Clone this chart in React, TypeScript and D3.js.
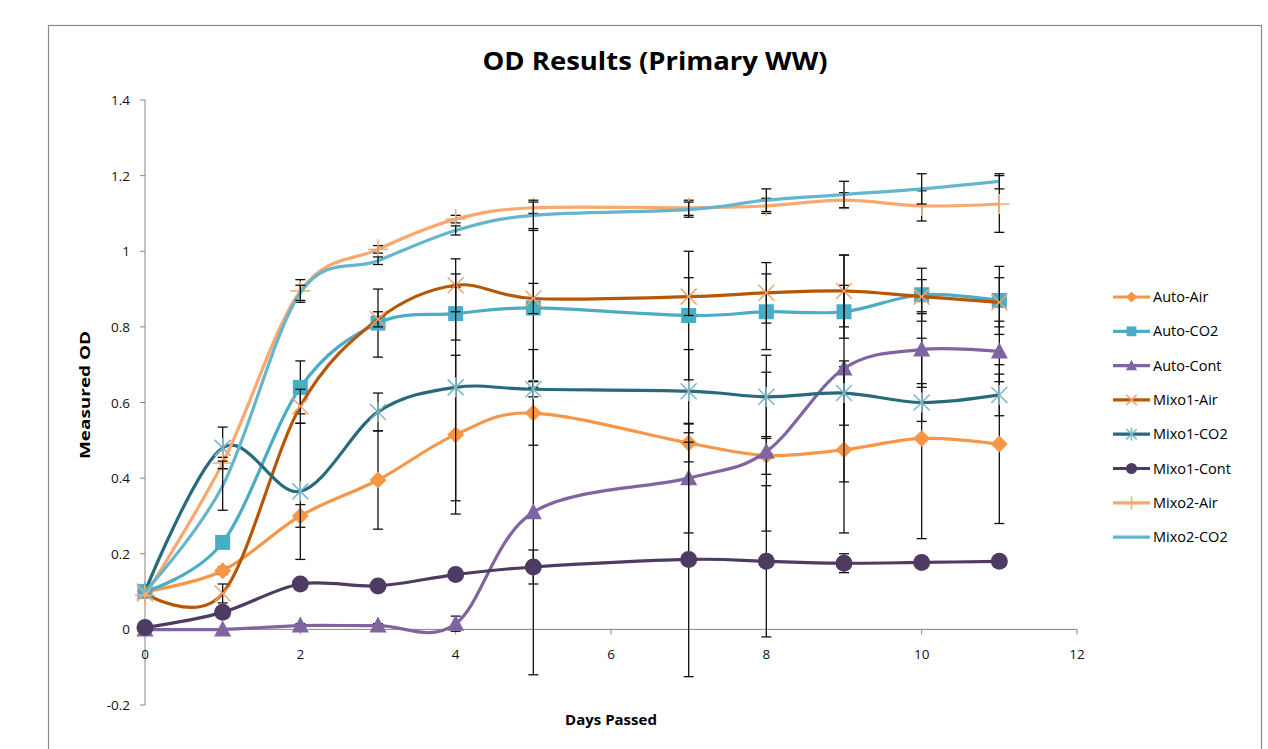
import React from "react";
import * as d3 from "d3";

const days = [0, 1, 2, 3, 4, 5, 7, 8, 9, 10, 11];
const seriesNames = ["Auto-Air", "Auto-CO2", "Auto-Cont", "Mixo1-Air", "Mixo1-CO2", "Mixo1-Cont", "Mixo2-Air", "Mixo2-CO2"];

const autoAir = [0.1, 0.155, 0.3, 0.395, 0.515, 0.572, 0.493, 0.46, 0.475, 0.505, 0.49];
const autoCO2 = [0.1, 0.23, 0.64, 0.81, 0.835, 0.85, 0.83, 0.84, 0.84, 0.885, 0.87];
const autoCont = [0, 0, 0.01, 0.01, 0.015, 0.31, 0.4, 0.47, 0.69, 0.74, 0.735];
const mixo1Air = [0.095, 0.095, 0.59, 0.82, 0.91, 0.875, 0.88, 0.89, 0.895, 0.88, 0.865];
const mixo1CO2 = [0.1, 0.48, 0.365, 0.575, 0.64, 0.635, 0.63, 0.615, 0.625, 0.6, 0.62];
const mixo1Cont = [0.005, 0.045, 0.12, 0.115, 0.145, 0.165, 0.185, 0.18, 0.175, 0.177, 0.18];
const mixo2Air = [0.09, 0.44, 0.895, 1.005, 1.085, 1.115, 1.115, 1.12, 1.135, 1.12, 1.125];
const mixo2CO2 = [0.1, 0.38, 0.89, 0.975, 1.055, 1.095, 1.11, 1.135, 1.15, 1.165, 1.185];

const autoAirErr = [0, 0.01, 0.03, 0.13, 0.21, 0.085, 0.05, 0.05, 0.22, 0.265, 0.21];
const autoCO2Err = [0, 0.01, 0.07, 0.09, 0.07, 0.21, 0.17, 0.1, 0.07, 0.07, 0.09];
const autoContErr = [0, 0, 0.005, 0.005, 0.02, 0.43, 0.145, 0.21, 0.3, 0.1, 0.08];
const mixo1AirErr = [0, 0.025, 0.045, 0.02, 0.07, 0.04, 0.05, 0.08, 0.095, 0.045, 0.065];
const mixo1CO2Err = [0, 0.055, 0.18, 0.05, 0.3, 0.02, 0.11, 0.11, 0.085, 0.05, 0.055];
const mixo1ContErr = [0, 0.005, 0.005, 0.005, 0.01, 0.045, 0.31, 0.2, 0.025, 0.005, 0.005];
const mixo2AirErr = [0, 0.015, 0.03, 0.01, 0.01, 0.015, 0.02, 0.02, 0.02, 0.04, 0.075];
const mixo2CO2Err = [0, 0.065, 0.02, 0.01, 0.012, 0.04, 0.02, 0.03, 0.035, 0.04, 0.02];

const xTicks = [0, 2, 4, 6, 8, 10, 12];
const yTicks = [-0.2, 0, 0.2, 0.4, 0.6, 0.8, 1, 1.2, 1.4];

const title = "OD Results (Primary WW)";
const xLabel = "Days Passed";
const yLabel = "Measured OD";

type Marker = "diamond" | "square" | "triangle" | "x" | "asterisk" | "circle" | "plus" | "none";

const styles: { color: string; markerColor: string; marker: Marker }[] = [
  { color: "#F79646", markerColor: "#F79646", marker: "diamond" },
  { color: "#4BACC6", markerColor: "#4BACC6", marker: "square" },
  { color: "#8064A2", markerColor: "#8064A2", marker: "triangle" },
  { color: "#B65708", markerColor: "#F2A36B", marker: "x" },
  { color: "#266A7C", markerColor: "#7DB5C6", marker: "asterisk" },
  { color: "#4E3B62", markerColor: "#4E3B62", marker: "circle" },
  { color: "#F9A86E", markerColor: "#F9A86E", marker: "plus" },
  { color: "#65B6CD", markerColor: "#65B6CD", marker: "none" },
];

const values = [autoAir, autoCO2, autoCont, mixo1Air, mixo1CO2, mixo1Cont, mixo2Air, mixo2CO2];
const errors = [autoAirErr, autoCO2Err, autoContErr, mixo1AirErr, mixo1CO2Err, mixo1ContErr, mixo2AirErr, mixo2CO2Err];

const FONT = "'Open Sans', 'Liberation Sans', Arial, sans-serif";

function MarkerShape({ type, x, y, color, scale = 1 }: { type: Marker; x: number; y: number; color: string; scale?: number }) {
  const s = scale;
  switch (type) {
    case "diamond":
      return <path d={`M${x},${y - 8.5 * s}L${x + 8.5 * s},${y}L${x},${y + 8.5 * s}L${x - 8.5 * s},${y}Z`} fill={color} />;
    case "square":
      return <rect x={x - 7.5 * s} y={y - 7.5 * s} width={15 * s} height={15 * s} fill={color} />;
    case "triangle":
      return <path d={`M${x},${y - 9 * s}L${x + 8.5 * s},${y + 7 * s}L${x - 8.5 * s},${y + 7 * s}Z`} fill={color} />;
    case "circle":
      return <circle cx={x} cy={y} r={8.5 * s} fill={color} />;
    case "x":
      return (
        <g stroke={color} strokeWidth={1.5}>
          <line x1={x - 8 * s} y1={y - 8 * s} x2={x + 8 * s} y2={y + 8 * s} />
          <line x1={x - 8 * s} y1={y + 8 * s} x2={x + 8 * s} y2={y - 8 * s} />
        </g>
      );
    case "asterisk":
      return (
        <g stroke={color} strokeWidth={1.5}>
          <line x1={x - 8 * s} y1={y - 8 * s} x2={x + 8 * s} y2={y + 8 * s} />
          <line x1={x - 8 * s} y1={y + 8 * s} x2={x + 8 * s} y2={y - 8 * s} />
          <line x1={x} y1={y - 10 * s} x2={x} y2={y + 10 * s} />
        </g>
      );
    case "plus":
      return (
        <g stroke={color} strokeWidth={1.5}>
          <line x1={x - 10 * s} y1={y} x2={x + 10 * s} y2={y} />
          <line x1={x} y1={y - 10 * s} x2={x} y2={y + 10 * s} />
        </g>
      );
    default:
      return null;
  }
}

export default function App() {
  const width = 1268;
  const height = 749;
  const x = d3.scaleLinear().domain([0, 12]).range([145, 1077]);
  const y = d3.scaleLinear().domain([-0.2, 1.4]).range([705, 100]);

  const line = d3
    .line<[number, number]>()
    .x((d) => x(d[0]))
    .y((d) => y(d[1]))
    .curve(d3.curveCardinal.tension(0));

  const legendX = 1113;
  const legendY0 = 297;
  const legendStep = 34.3;

  return (
    <svg width={width} height={height} style={{ position: "absolute", left: 0, top: 0, background: "#fff" }}>
      <rect x={0} y={0} width={width} height={height} fill="#fff" />
      <rect x={48.5} y={25.5} width={1213} height={760} fill="#fff" stroke="#8a8a8a" strokeWidth={1.2} />

      <text x={655} y={70} textAnchor="middle" fontFamily={FONT} fontWeight="bold" fontSize={25} fill="#000" textLength={345} lengthAdjust="spacingAndGlyphs">
        {title}
      </text>

      {/* Y axis */}
      <line x1={x(0)} y1={y(1.4)} x2={x(0)} y2={y(-0.2)} stroke="#868686" strokeWidth={1} />
      {yTicks.map((t) => (
        <g key={"y" + t}>
          <line x1={x(0) - 5} x2={x(0)} y1={y(t)} y2={y(t)} stroke="#868686" />
          <text x={x(0) - 15} y={y(t) + 5} textAnchor="end" fontFamily={FONT} fontSize={13.5} fill="#111">
            {String(t)}
          </text>
        </g>
      ))}
      {/* X axis */}
      <line x1={x(0)} y1={y(0)} x2={x(12)} y2={y(0)} stroke="#868686" strokeWidth={1} />
      {xTicks.map((t) => (
        <g key={"x" + t}>
          <line x1={x(t)} x2={x(t)} y1={y(0)} y2={y(0) + 5} stroke="#868686" />
          <text x={x(t)} y={y(0) + 30} textAnchor="middle" fontFamily={FONT} fontSize={13.5} fill="#111">
            {String(t)}
          </text>
        </g>
      ))}

      <text x={611} y={725} textAnchor="middle" fontFamily={FONT} fontWeight="bold" fontSize={15} fill="#000">
        {xLabel}
      </text>
      <text transform={`translate(90,395) rotate(-90)`} textAnchor="middle" fontFamily={FONT} fontWeight="bold" fontSize={14} fill="#000" textLength={128} lengthAdjust="spacingAndGlyphs">
        {yLabel}
      </text>

      {values.map((vals, si) => {
        const st = styles[si];
        const pts = days.map((d, i) => [d, vals[i]] as [number, number]);
        return (
          <g key={"s" + si}>
            <path d={line(pts) as string} fill="none" stroke={st.color} strokeWidth={3.2} />
            {days.map((d, i) => {
              const e = errors[si][i];
              if (!e) return null;
              const cx = x(d);
              return (
                <g key={"e" + i} stroke="#111" strokeWidth={1.3}>
                  <line x1={cx} x2={cx} y1={y(vals[i] - e)} y2={y(vals[i] + e)} />
                  <line x1={cx - 5} x2={cx + 5} y1={y(vals[i] - e)} y2={y(vals[i] - e)} />
                  <line x1={cx - 5} x2={cx + 5} y1={y(vals[i] + e)} y2={y(vals[i] + e)} />
                </g>
              );
            })}
            {days.map((d, i) => (
              <MarkerShape key={"m" + i} type={st.marker} x={x(d)} y={y(vals[i])} color={st.markerColor} />
            ))}
          </g>
        );
      })}

      {seriesNames.map((name, si) => {
        const st = styles[si];
        const ly = legendY0 + si * legendStep;
        return (
          <g key={"l" + si}>
            <line x1={legendX} x2={legendX + 37} y1={ly} y2={ly} stroke={st.color} strokeWidth={3.2} />
            <MarkerShape type={st.marker} x={legendX + 18.5} y={ly} color={st.markerColor} scale={0.65} />
            <text x={legendX + 40} y={ly + 5} fontFamily={FONT} fontSize={14.5} fill="#000">
              {name}
            </text>
          </g>
        );
      })}
    </svg>
  );
}
